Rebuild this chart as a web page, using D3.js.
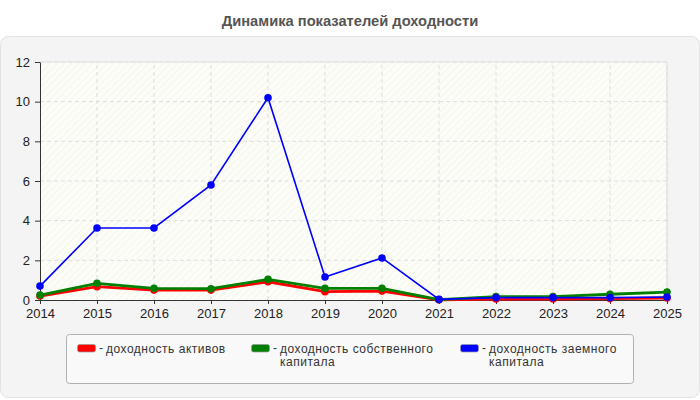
<!DOCTYPE html>
<html lang="ru">
<head>
<meta charset="UTF-8">
<title>Динамика показателей доходности</title>
<script src="https://cdnjs.cloudflare.com/ajax/libs/d3/7.8.5/d3.min.js"></script>
<style>
    body { margin: 0; background: #fff; font-family: "Liberation Sans", Arial, sans-serif; }
    svg { display: block; }
    .tick text { font-size: 13px; fill: #222; }
</style>
</head>
<body>
<svg id="svg" width="700" height="400"></svg>
<script>
    const years = [2014, 2015, 2016, 2017, 2018, 2019, 2020, 2021, 2022, 2023, 2024, 2025];
    const assets = [0.2, 0.67, 0.5, 0.5, 0.92, 0.42, 0.45, 0.01, 0.05, 0.05, 0.07, 0.1];
    const equity = [0.25, 0.84, 0.59, 0.57, 1.04, 0.59, 0.59, 0.02, 0.17, 0.17, 0.29, 0.4];
    const borrowed = [0.7, 3.63, 3.63, 5.8, 10.2, 1.16, 2.12, 0.03, 0.12, 0.12, 0.12, 0.15];
    const yTicks = [0, 2, 4, 6, 8, 10, 12];
    const seriesNames = ["доходность активов", "доходность собственного капитала", "доходность заемного капитала"];
    const seriesColors = ["#ff0000", "#008000", "#0000ff"];

    const svg = d3.select("#svg");
    const margin = { left: 40, right: 33, top: 62, bottom: 100 };
    const width = 700, height = 400;

    // title
    svg.append("text")
        .attr("x", width / 2).attr("y", 26)
        .attr("text-anchor", "middle")
        .style("font-size", "14.7px").style("font-weight", "bold").style("fill", "#555")
        .text("Динамика показателей доходности");

    // panel
    svg.append("rect")
        .attr("x", 0.5).attr("y", 36.5).attr("width", 699).attr("height", 361).attr("rx", 8)
        .attr("fill", "#f4f4f4").attr("stroke", "#e2e2e2");

    const defs = svg.append("defs");
    const pat = defs.append("pattern")
        .attr("id", "hatch").attr("patternUnits", "userSpaceOnUse")
        .attr("width", 5).attr("height", 5)
        .attr("patternTransform", "rotate(45)");
    pat.append("rect").attr("width", 5).attr("height", 5).attr("fill", "#fdfdf8");
    pat.append("line").attr("x1", 0).attr("y1", 0).attr("x2", 0).attr("y2", 5)
        .attr("stroke", "#eeeee8").attr("stroke-width", 1);

    const x = d3.scaleLinear().domain([2014, 2025]).range([margin.left, width - margin.right]);
    const y = d3.scaleLinear().domain([0, 12]).range([height - margin.bottom, margin.top]);

    svg.append("rect")
        .attr("x", x(2014)).attr("y", y(12))
        .attr("width", x(2025) - x(2014)).attr("height", y(0) - y(12))
        .attr("fill", "url(#hatch)");

    // grid
    const g = svg.append("g");
    g.selectAll(".vg").data(years.slice(1)).enter().append("line")
        .attr("x1", d => x(d)).attr("x2", d => x(d))
        .attr("y1", y(0)).attr("y2", y(12))
        .attr("stroke", "#dcdcdc").attr("stroke-dasharray", "4,3");
    g.selectAll(".hg").data(yTicks.slice(1)).enter().append("line")
        .attr("x1", x(2014)).attr("x2", x(2025))
        .attr("y1", d => y(d)).attr("y2", d => y(d))
        .attr("stroke", "#dcdcdc").attr("stroke-dasharray", "4,3");
    g.append("line").attr("x1", x(2025)).attr("x2", x(2025)).attr("y1", y(0)).attr("y2", y(12))
        .attr("stroke", "#dcdcdc");
    g.append("line").attr("x1", x(2014)).attr("x2", x(2025)).attr("y1", y(12)).attr("y2", y(12))
        .attr("stroke", "#e4e4e4");

    // axes
    const xAxis = svg.append("g").attr("transform", `translate(0,${y(0)})`)
        .call(d3.axisBottom(x).tickValues(years).tickFormat(d3.format("d")).tickSize(4).tickSizeOuter(0));
    const yAxis = svg.append("g").attr("transform", `translate(${x(2014)},0)`)
        .call(d3.axisLeft(y).tickValues(yTicks).tickSize(5).tickSizeOuter(0));
    [xAxis, yAxis].forEach(a => {
        a.select(".domain").attr("stroke", "#333");
        a.selectAll(".tick line").attr("stroke", "#333");
        a.selectAll(".tick text").style("font-family", "'Liberation Sans', Arial, sans-serif");
    });
    xAxis.selectAll(".tick text").attr("y", 9);
    yAxis.selectAll(".tick text").attr("x", -10);

    // lines
    const series = [assets, equity, borrowed];
    const widths = [2.8, 2.8, 1.6];
    const line = d3.line().x((d, i) => x(years[i])).y(d => y(d));
    series.forEach((vals, k) => {
        svg.append("path").datum(vals)
            .attr("fill", "none").attr("stroke", seriesColors[k])
            .attr("stroke-width", widths[k]).attr("d", line);
        svg.selectAll(".pt" + k).data(vals).enter().append("circle")
            .attr("cx", (d, i) => x(years[i])).attr("cy", d => y(d))
            .attr("r", 3.8).attr("fill", seriesColors[k]);
    });

    // legend
    svg.append("rect")
        .attr("x", 66.5).attr("y", 334.5).attr("width", 567).attr("height", 49).attr("rx", 3)
        .attr("fill", "#f9f9f9").attr("stroke", "#b0b0b0");
    const legX = [77, 251, 460];
    seriesNames.forEach((name, k) => {
        const lg = svg.append("g").attr("transform", `translate(${legX[k]},344)`);
        lg.append("rect").attr("x", 0.5).attr("y", 0.5).attr("width", 18).attr("height", 7.5).attr("rx", 2)
            .attr("fill", seriesColors[k]).attr("stroke", "#999").attr("stroke-width", 0.7);
        lg.append("text").attr("x", 22).attr("y", 8)
            .style("font-size", "12px").style("fill", "#333").text("-");
        const words = name.split(" ");
        const lines = k === 0 ? [name] : [words.slice(0, 2).join(" "), words.slice(2).join(" ")];
        lines.forEach((l, i) => lg.append("text")
            .attr("x", 29).attr("y", 8.5 + i * 13.5)
            .style("font-size", "12px").style("letter-spacing", "0.5px").style("fill", "#333")
            .text(l));
    });
</script>
</body>
</html>
